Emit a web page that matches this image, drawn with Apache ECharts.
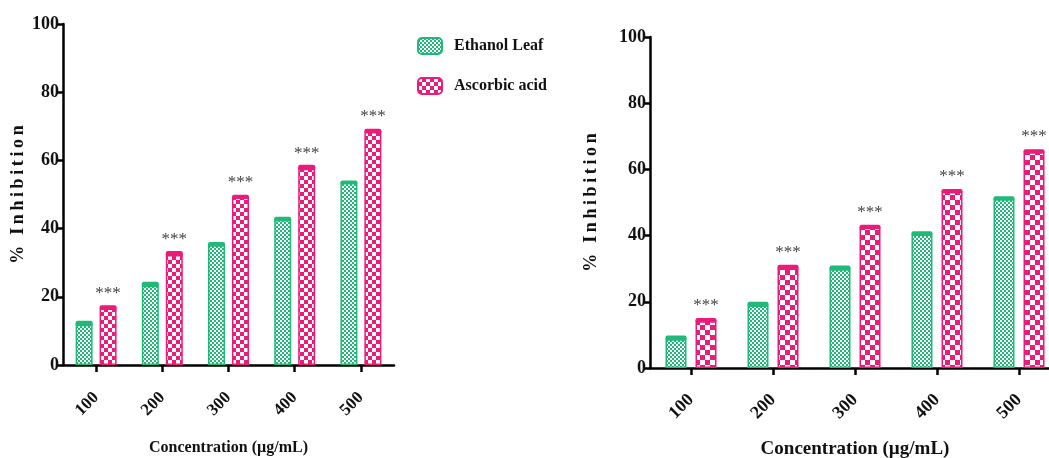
<!DOCTYPE html>
<html>
<head>
<meta charset="utf-8">
<script src="https://cdn.jsdelivr.net/npm/echarts@6/dist/echarts.min.js"></script>
<style>
html,body{margin:0;padding:0;background:#fff;}
#c{width:1049px;height:458px;}
</style>
</head>
<body>
<div id="c"></div>
<script>
// ---- data ----
var categories = ['100', '200', '300', '400', '500'];
var leftEthanol  = [12.2, 23.6, 35.4, 42.8, 53.5];
var leftAscorbic = [16.8, 32.6, 49.3, 57.9, 68.6];
var rightEthanol  = [9.0, 19.2, 30.2, 40.6, 51.2];
var rightAscorbic = [14.4, 30.4, 42.6, 53.4, 65.4];
var errLeftEthanol  = [0.8, 0.8, 0.7, 0.7, 0.6];
var errLeftAscorbic = [0.7, 0.8, 0.6, 0.8, 0.7];
var errRightEthanol  = [0.8, 0.8, 0.8, 0.7, 0.7];
var errRightAscorbic = [0.7, 0.8, 0.7, 0.7, 0.7];
var yTicks = [0, 20, 40, 60, 80, 100];
var sigLabel = '***';

var GREEN = '#1fb978';
var PINK = '#ec1a79';
var FONT = '"Liberation Serif", "Times New Roman", serif';

function checker(size, cell, fg, bg) {
  var cv = document.createElement('canvas');
  cv.width = size; cv.height = size;
  var ctx = cv.getContext('2d');
  ctx.fillStyle = bg; ctx.fillRect(0, 0, size, size);
  ctx.fillStyle = fg;
  ctx.fillRect(0, 0, cell, cell);
  ctx.fillRect(cell, cell, cell, cell);
  return cv;
}
var greenPat = { image: checker(4, 2, '#ffffff', GREEN), repeat: 'repeat' };
var pinkPatL = { image: checker(8, 4, '#ffffff', PINK), repeat: 'repeat' };
var pinkPatR = { image: checker(10, 5, '#ffffff', PINK), repeat: 'repeat' };

var chart = echarts.init(document.getElementById('c'));

var yName = '%\u2009\u2009\u2009I\u2009n\u2009h\u2009i\u2009b\u2009i\u2009t\u2009i\u2009o\u2009n';

function yAxisCfg(gi, fs) {
  return {
    type: 'value', gridIndex: gi, min: yTicks[0], max: yTicks[yTicks.length - 1], interval: 20,
    name: yName,
    nameLocation: 'middle', nameGap: gi === 0 ? 36 : 50, nameRotate: 90,
    nameTextStyle: { fontFamily: FONT, fontWeight: 'bold', fontSize: 18, color: '#111' },
    axisLine: { show: true, lineStyle: { color: '#000', width: 2.5 } },
    axisTick: { show: true, length: 6, lineStyle: { color: '#000', width: 2.5 } },
    axisLabel: { fontFamily: FONT, fontWeight: 'bold', fontSize: fs, color: '#111', margin: 4 },
    splitLine: { show: false }
  };
}
function xAxisCfg(gi, fs, nfs, gap, margin) {
  return {
    type: 'category', gridIndex: gi, data: categories,
    name: 'Concentration (\u00b5g/mL)', nameLocation: 'middle', nameGap: gap,
    nameTextStyle: { fontFamily: FONT, fontWeight: 'bold', fontSize: nfs, color: '#111' },
    axisLine: { show: true, lineStyle: { color: '#000', width: 2.5 } },
    axisTick: { show: true, alignWithLabel: true, length: 7, lineStyle: { color: '#000', width: 2.5 } },
    axisLabel: { fontFamily: FONT, fontWeight: 'bold', fontSize: fs, color: '#111', rotate: 45, margin: margin }
  };
}

function barSeries(name, gi, data, pat, color, width, gap, showSig) {
  return {
    name: name, type: 'bar', xAxisIndex: gi, yAxisIndex: gi, data: data,
    barWidth: width, barGap: gap,
    itemStyle: { color: pat, borderColor: color, borderWidth: 1.5 },
    label: showSig ? {
      show: true, position: 'top', distance: 6, formatter: sigLabel,
      fontFamily: FONT, fontSize: 17, color: '#444'
    } : { show: false },
    z: 2
  };
}
function capSeries(gi, vals, errs, color, width, offset) {
  var d = vals.map(function (v, i) { return [i, v, errs[i]]; });
  return {
    type: 'custom', xAxisIndex: gi, yAxisIndex: gi, data: d, silent: true, z: 3,
    renderItem: function (params, api) {
      var i = api.value(0), v = api.value(1), e = api.value(2);
      var p0 = api.coord([i, v - e]);
      var p1 = api.coord([i, v + e]);
      return {
        type: 'rect',
        shape: { x: p0[0] + offset - width / 2, y: p1[1], width: width, height: p0[1] - p1[1], r: 2 },
        style: { fill: color }
      };
    }
  };
}

var option = {
  animation: false,
  backgroundColor: '#fff',
  legend: {
    left: 417, top: 37, padding: 0, orient: 'vertical', itemWidth: 24, itemHeight: 16, itemGap: 22,
    data: ['Ethanol Leaf', 'Ascorbic acid'],
    textStyle: { fontFamily: FONT, fontWeight: 'bold', fontSize: 16, color: '#111', padding: [0, 0, 0, 7] }
  },
  grid: [
    { left: 63, top: 24, width: 331, height: 341, outerBoundsMode: 'none', containLabel: false },
    { left: 650, top: 37, width: 410, height: 331, outerBoundsMode: 'none', containLabel: false }
  ],
  xAxis: [xAxisCfg(0, 17, 16, 75, 30), xAxisCfg(1, 18, 19, 72, 29)],
  yAxis: [yAxisCfg(0, 18), yAxisCfg(1, 18)],
  series: [
    barSeries('Ethanol Leaf', 0, leftEthanol, greenPat, GREEN, 17, '41%', false),
    barSeries('Ascorbic acid', 0, leftAscorbic, pinkPatL, PINK, 17, '41%', true),
    barSeries('Ethanol Leaf', 1, rightEthanol, greenPat, GREEN, 21, '43%', false),
    barSeries('Ascorbic acid', 1, rightAscorbic, pinkPatR, PINK, 21, '43%', true),
    capSeries(0, leftEthanol, errLeftEthanol, GREEN, 17, -12),
    capSeries(0, leftAscorbic, errLeftAscorbic, PINK, 17, 12),
    capSeries(1, rightEthanol, errRightEthanol, GREEN, 21, -15),
    capSeries(1, rightAscorbic, errRightAscorbic, PINK, 21, 15)
  ]
};
chart.setOption(option);
</script>
</body>
</html>
